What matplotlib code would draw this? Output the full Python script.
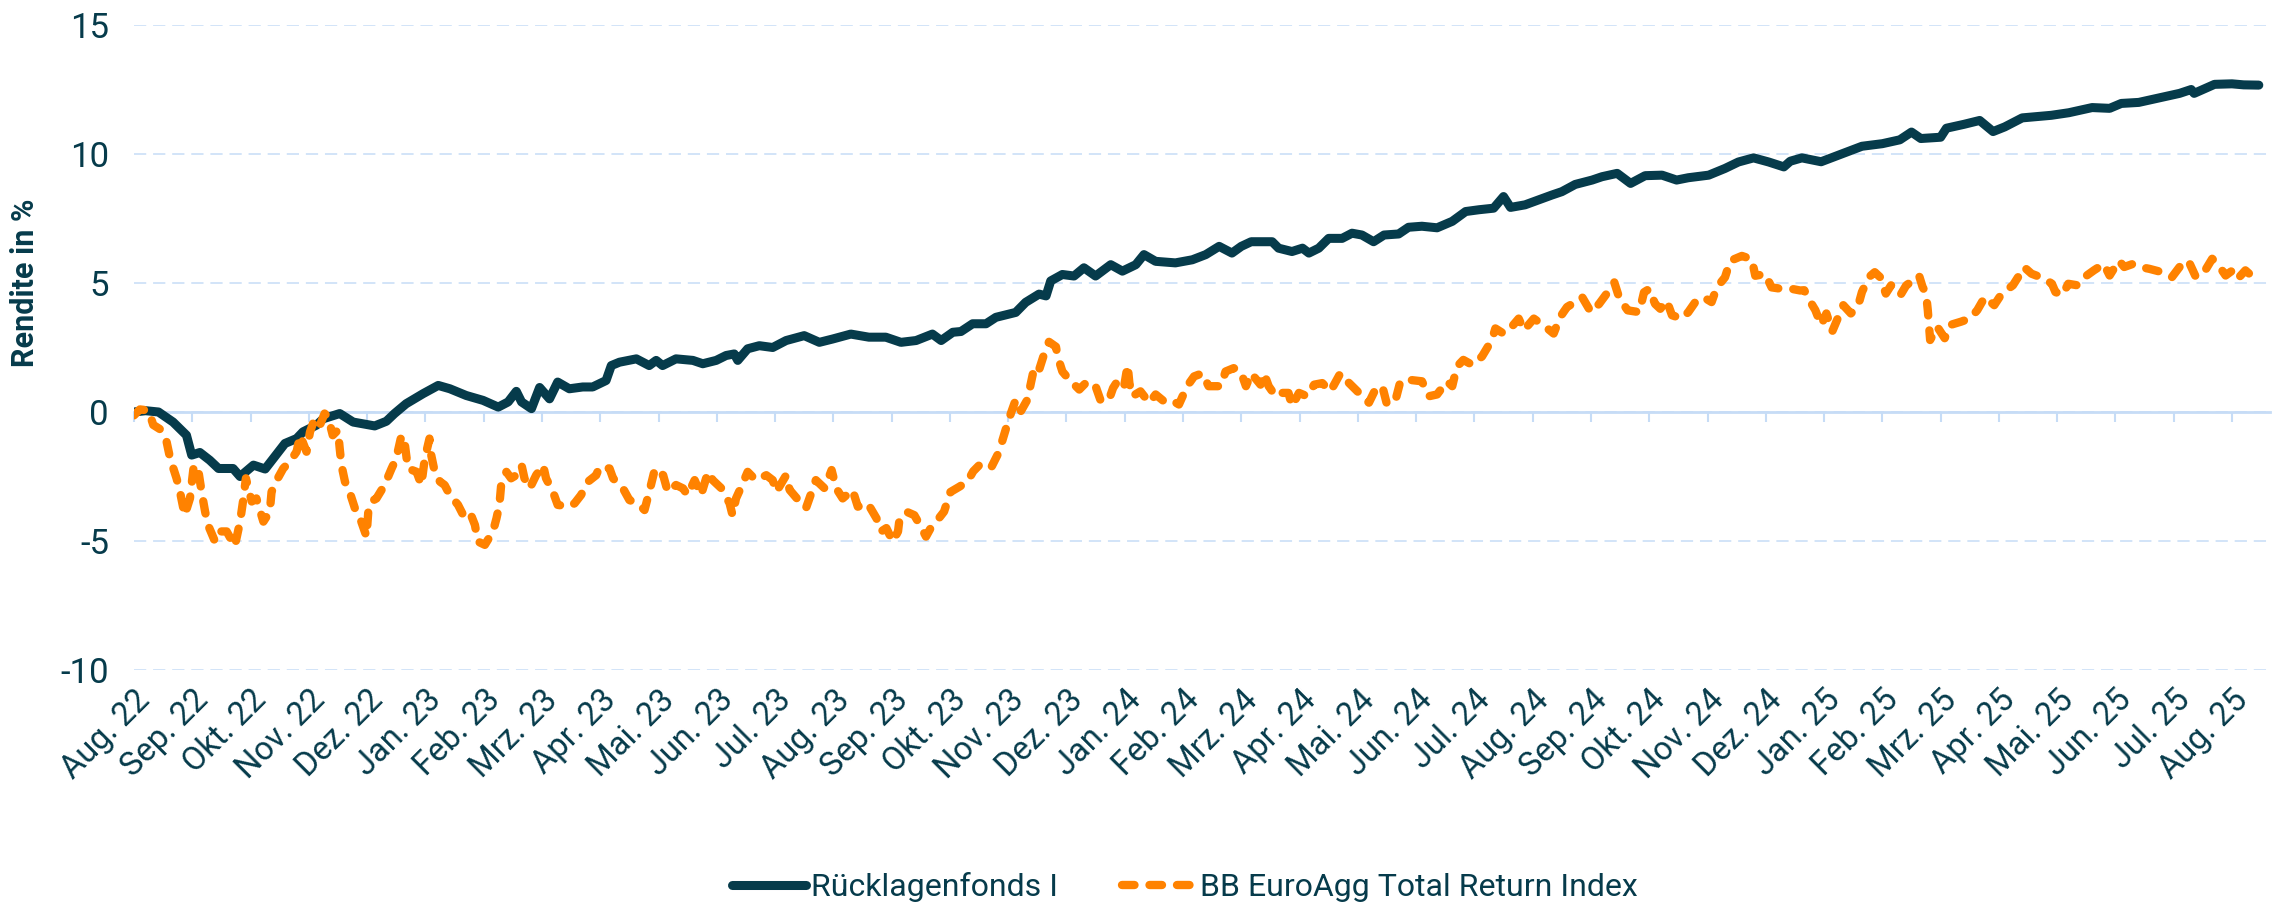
import matplotlib.pyplot as plt

plt.rcParams['font.family'] = ['Roboto', 'DejaVu Sans']
plt.rcParams['axes.unicode_minus'] = False

DARK = '#063b4b'
ORANGE = '#ff8200'
GRID = '#c6dcf6'

month_labels = ['Aug. 22', 'Sep. 22', 'Okt. 22', 'Nov. 22', 'Dez. 22', 'Jan. 23',
                'Feb. 23', 'Mrz. 23', 'Apr. 23', 'Mai. 23', 'Jun. 23', 'Jul. 23',
                'Aug. 23', 'Sep. 23', 'Okt. 23', 'Nov. 23', 'Dez. 23', 'Jan. 24',
                'Feb. 24', 'Mrz. 24', 'Apr. 24', 'Mai. 24', 'Jun. 24', 'Jul. 24',
                'Aug. 24', 'Sep. 24', 'Okt. 24', 'Nov. 24', 'Dez. 24', 'Jan. 25',
                'Feb. 25', 'Mrz. 25', 'Apr. 25', 'Mai. 25', 'Jun. 25', 'Jul. 25',
                'Aug. 25']

# months since Aug. 22, return in %
fonds_m = [0.0, 0.2, 0.42, 0.67, 0.9, 0.99, 1.13, 1.3, 1.45, 1.7, 1.82, 2.05, 2.25, 2.39,
           2.59, 2.79, 2.9, 3.13, 3.25, 3.53, 3.76, 4.13, 4.33, 4.47, 4.67, 4.96, 5.22,
           5.42, 5.7, 5.99, 6.25, 6.42, 6.56, 6.65, 6.82, 6.96, 7.13, 7.27, 7.47, 7.7,
           7.87, 8.1, 8.19, 8.33, 8.62, 8.84, 8.96, 9.07, 9.3, 9.59, 9.76, 9.99, 10.16,
           10.3, 10.36, 10.53, 10.73, 10.96, 11.19, 11.5, 11.76, 11.99, 12.3, 12.61, 12.9,
           13.16, 13.42, 13.7, 13.85, 14.05, 14.19, 14.39, 14.62, 14.79, 15.13, 15.3,
           15.53, 15.65, 15.73, 15.93, 16.13, 16.3, 16.5, 16.76, 16.96, 17.19, 17.33,
           17.53, 17.87, 18.16, 18.39, 18.62, 18.84, 19.0, 19.17, 19.53, 19.64, 19.87,
           20.05, 20.16, 20.33, 20.5, 20.73, 20.9, 21.07, 21.27, 21.45, 21.7, 21.87, 22.1,
           22.36, 22.62, 22.85, 23.08, 23.33, 23.5, 23.62, 23.87, 24.1, 24.33, 24.5,
           24.73, 25.02, 25.19, 25.45, 25.68, 25.93, 26.22, 26.47, 26.67, 27.02, 27.3,
           27.53, 27.79, 28.05, 28.31, 28.42, 28.62, 28.95, 29.3, 29.65, 30.0, 30.3,
           30.5, 30.66, 31.0, 31.1, 31.4, 31.67, 31.9, 32.1, 32.4, 32.9, 33.2, 33.6, 33.9,
           34.1, 34.4, 34.8, 35.1, 35.3, 35.35, 35.7, 36.0, 36.2, 36.46]
fonds_v = [0.0, 0.05, 0.0, -0.39, -0.9, -1.67, -1.57, -1.87, -2.19, -2.19, -2.5, -2.06,
           -2.21, -1.8, -1.22, -1.03, -0.77, -0.51, -0.26, -0.06, -0.39, -0.54, -0.36,
           -0.06, 0.32, 0.71, 1.03, 0.9, 0.64, 0.45, 0.19, 0.39, 0.8, 0.39, 0.13, 0.95,
           0.51, 1.16, 0.9, 0.97, 0.97, 1.22, 1.8, 1.93, 2.06, 1.8, 2.0, 1.8, 2.06, 2.0,
           1.87, 2.0, 2.19, 2.25, 2.0, 2.45, 2.57, 2.5, 2.77, 2.96, 2.7, 2.83, 3.02, 2.9,
           2.9, 2.7, 2.77, 3.02, 2.77, 3.09, 3.12, 3.42, 3.42, 3.67, 3.86, 4.25, 4.57,
           4.5, 5.08, 5.33, 5.27, 5.59, 5.27, 5.71, 5.46, 5.71, 6.1, 5.84, 5.78, 5.9, 6.1,
           6.42, 6.16, 6.42, 6.6, 6.6, 6.35, 6.22, 6.35, 6.16, 6.35, 6.73, 6.73, 6.93,
           6.86, 6.6, 6.86, 6.9, 7.16, 7.2, 7.14, 7.39, 7.77, 7.84, 7.9, 8.35, 7.93, 8.03,
           8.22, 8.41, 8.54, 8.82, 8.99, 9.12, 9.25, 8.86, 9.16, 9.18, 8.99, 9.08, 9.18,
           9.44, 9.69, 9.85, 9.69, 9.5, 9.72, 9.85, 9.7, 10.0, 10.3, 10.4, 10.55, 10.85,
           10.6, 10.65, 11.0, 11.15, 11.3, 10.87, 11.05, 11.4, 11.5, 11.6, 11.8, 11.77,
           11.96, 12.0, 12.2, 12.35, 12.5, 12.35, 12.7, 12.72, 12.68, 12.67]

index_m = [0.0, 0.1, 0.25, 0.33, 0.47, 0.56, 0.62, 0.73, 0.79, 0.87, 0.96, 1.02, 1.09,
           1.16, 1.22, 1.27, 1.39, 1.47, 1.59, 1.73, 1.82, 1.87, 1.92, 2.02, 2.1, 2.22,
           2.33, 2.36, 2.45, 2.56, 2.67, 2.79, 2.85, 2.96, 3.02, 3.1, 3.19, 3.27, 3.33,
           3.41, 3.5, 3.53, 3.56, 3.62, 3.7, 3.79, 3.9, 3.99, 4.02, 4.07, 4.16, 4.3, 4.42,
           4.5, 4.59, 4.65, 4.7, 4.85, 4.93, 4.99, 5.07, 5.1, 5.16, 5.25, 5.33, 5.42,
           5.56, 5.65, 5.76, 5.85, 5.9, 6.02, 6.16, 6.22, 6.27, 6.3, 6.39, 6.47, 6.56,
           6.65, 6.7, 6.79, 6.9, 7.02, 7.07, 7.19, 7.27, 7.47, 7.56, 7.67, 7.79, 7.93,
           7.99, 8.16, 8.22, 8.39, 8.5, 8.67, 8.76, 8.85, 8.94, 9.08, 9.16, 9.3, 9.42,
           9.5, 9.62, 9.73, 9.85, 9.93, 10.08, 10.22, 10.27, 10.33, 10.42, 10.53, 10.67,
           10.85, 10.96, 11.02, 11.19, 11.25, 11.42, 11.53, 11.62, 11.7, 11.85, 11.97,
           12.05, 12.16, 12.33, 12.42, 12.53, 12.59, 12.74, 12.82, 12.91, 13.02, 13.11,
           13.13, 13.25, 13.39, 13.5, 13.59, 13.67, 13.79, 13.9, 14.01, 14.16, 14.3,
           14.4, 14.5, 14.7, 14.84, 14.96, 15.05, 15.13, 15.22, 15.33, 15.39, 15.45,
           15.53, 15.62, 15.7, 15.82, 15.85, 15.93, 16.05, 16.22, 16.36, 16.5, 16.59,
           16.73, 16.8, 16.89, 16.99, 17.05, 17.08, 17.13, 17.27, 17.42, 17.53, 17.67,
           17.79, 17.93, 18.07, 18.19, 18.33, 18.44, 18.65, 18.73, 18.87, 18.99, 19.08,
           19.17, 19.33, 19.39, 19.47, 19.59, 19.67, 19.81, 19.87, 19.99, 20.13, 20.25,
           20.39, 20.53, 20.7, 20.85, 21.02, 21.19, 21.3, 21.42, 21.5, 21.65, 21.73,
           21.87, 22.1, 22.22, 22.36, 22.53, 22.62, 22.7, 22.81, 22.96, 23.13, 23.3,
           23.36, 23.5, 23.59, 23.76, 23.85, 24.02, 24.1, 24.22, 24.36, 24.47, 24.59,
           24.73, 24.85, 25.0, 25.14, 25.31, 25.4, 25.49, 25.63, 25.83, 25.91, 26.0,
           26.1, 26.19, 26.3, 26.39, 26.56, 26.67, 26.79, 26.93, 27.07, 27.16, 27.3,
           27.39, 27.59, 27.76, 27.82, 27.99, 28.1, 28.28, 28.45, 28.59, 28.66, 28.73,
           28.85, 28.95, 29.04, 29.14, 29.33, 29.46, 29.58, 29.65, 29.77, 29.87, 29.96,
           30.06, 30.15, 30.31, 30.41, 30.53, 30.63, 30.69, 30.75, 30.78, 30.82, 30.94,
           31.07, 31.16, 31.35, 31.51, 31.63, 31.76, 31.92, 32.05, 32.24, 32.33, 32.43,
           32.56, 32.78, 32.91, 32.97, 33.09, 33.19, 33.35, 33.47, 33.63, 33.8, 33.9,
           34.06, 34.15, 34.3, 34.42, 34.58, 34.8, 34.97, 35.1, 35.25, 35.38, 35.54,
           35.66, 35.79, 35.89, 36.01, 36.1, 36.23, 36.36, 36.46]
index_v = [-0.13, 0.1, 0.06, -0.5, -0.7, -1.16, -1.8, -2.57, -3.1, -4.0, -3.35, -2.19,
           -2.06, -3.1, -3.86, -4.38, -5.02, -4.63, -4.63, -5.2, -4.25, -3.47, -2.57,
           -3.47, -3.35, -4.25, -3.86, -3.1, -2.64, -2.19, -1.93, -1.54, -0.9, -1.54,
           -0.77, -0.26, -0.51, -0.06, -0.19, -0.9, -0.7, -1.42, -2.06, -2.7, -3.1,
           -3.73, -4.25, -4.83, -3.86, -3.47, -3.35, -2.83, -2.19, -1.8, -0.9, -1.29,
           -2.19, -2.32, -2.83, -1.8, -1.03, -1.67, -2.32, -2.7, -2.83, -3.22, -3.6,
           -4.0, -3.86, -4.38, -5.02, -5.15, -4.63, -4.12, -3.6, -2.83, -2.32, -2.57,
           -2.45, -2.06, -2.57, -2.96, -2.45, -2.06, -2.57, -3.1, -3.6, -3.67, -3.54,
           -3.22, -2.7, -2.45, -2.12, -2.19, -2.57, -2.96, -3.41, -3.6, -3.8, -3.02,
           -2.19, -2.45, -3.1, -2.83, -2.96, -3.22, -2.64, -3.22, -2.32, -2.64, -2.96,
           -3.54, -4.0, -3.35, -2.9, -2.32, -2.64, -2.45, -2.64, -3.1, -2.45, -3.02,
           -3.47, -3.73, -3.15, -2.64, -2.96, -2.25, -2.96, -3.35, -3.02, -3.67, -3.6,
           -3.54, -4.12, -4.63, -4.5, -5.02, -4.63, -4.25, -3.86, -4.0, -4.44, -4.83,
           -4.5, -4.18, -3.86, -3.1, -2.9, -2.7, -2.3, -2.07, -2.19, -1.56, -0.66, -0.03,
           0.48, 0.04, 0.48, 1.12, 1.76, 1.63, 2.27, 2.72, 2.53, 2.14, 1.57, 1.25, 0.87,
           1.19, 1.0, 0.42, 0.48, 0.93, 1.25, 1.0, 1.82, 1.12, 0.61, 0.8, 0.36, 0.68,
           0.42, 0.48, 0.29, 1.0, 1.38, 1.5, 1.0, 1.0, 1.57, 1.7, 1.57, 1.0, 1.5, 1.06,
           1.5, 1.0, 0.61, 0.74, 0.74, 0.23, 0.74, 0.61, 1.06, 1.12, 0.8, 1.5, 1.12,
           0.74, 0.36, 0.87, 1.0, 0.29, 0.49, 1.19, 1.25, 1.19, 0.61, 0.68, 1.19, 1.0,
           1.76, 2.02, 1.83, 2.15, 2.79, 3.24, 3.04, 3.17, 3.62, 3.17, 3.62, 3.49, 3.3,
           3.04, 3.68, 4.07, 4.26, 4.45, 3.87, 4.19, 4.71, 5.03, 4.39, 3.94, 3.87, 4.64,
           4.77, 4.19, 4.0, 4.32, 3.75, 3.62, 3.87, 4.26, 4.45, 4.26, 4.83, 5.22, 5.86,
           6.05, 5.92, 5.28, 5.35, 4.83, 4.77, 4.77, 4.71, 4.72, 4.4, 3.95, 3.37, 3.82,
           3.12, 4.14, 3.82, 4.08, 4.65, 5.23, 5.42, 5.23, 4.59, 4.91, 4.53, 4.91, 5.1,
           5.29, 4.85, 4.59, 3.95, 2.79, 3.31, 2.86, 3.37, 3.5, 3.63, 3.95, 4.46, 4.14,
           4.59, 4.91, 5.23, 5.62, 5.36, 5.17, 4.97, 4.65, 4.53, 4.97, 4.91, 5.23, 5.49,
           5.74, 5.29, 5.87, 5.62, 5.74, 5.62, 5.55, 5.42, 5.23, 5.62, 5.87, 5.23, 5.49,
           5.94, 5.62, 5.29, 5.49, 5.17, 5.49, 5.23, 5.3]

fig = plt.figure(figsize=(22.79, 9.06), dpi=100)
ax = fig.add_axes([0.0588, 0.2605, 0.9372, 0.7119])

ax.plot(fonds_m, fonds_v, color=DARK, lw=6.5, solid_capstyle='round',
        solid_joinstyle='round', label='Rücklagenfonds I', zorder=3)
ax.plot(index_m, index_v, color=ORANGE, lw=6, dashes=(1.5, 1.8),
        dash_capstyle='round', dash_joinstyle='round',
        label='BB EuroAgg Total Return Index', zorder=4)

ax.set_xlim(0, 36.65)
ax.set_ylim(-10, 15)
ax.set_yticks(range(-10, 16, 5))
ax.grid(axis='y', color=GRID, linestyle=(0, (8, 4.5)), lw=1.1)
ax.set_axisbelow(True)

for s in ['left', 'top', 'right']:
    ax.spines[s].set_visible(False)
ax.spines['bottom'].set_position(('data', 0))
ax.spines['bottom'].set_color(GRID)
ax.spines['bottom'].set_linewidth(2)
ax.spines['bottom'].set_zorder(2)

ax.set_xticks(range(len(month_labels)))
ax.tick_params(axis='x', length=7, width=1.5, color=GRID, labelbottom=False)
ax.tick_params(axis='y', length=0, pad=18, labelsize=25, labelcolor=DARK)

sec = ax.secondary_xaxis('bottom')
sec.set_xticks(range(len(month_labels)), labels=month_labels)
sec.tick_params(length=0, pad=10, labelsize=23.5, labelcolor=DARK)
sec.spines['bottom'].set_visible(False)
for lab in sec.get_xticklabels():
    lab.set_rotation(45)
    lab.set_ha('right')
    lab.set_rotation_mode('anchor')

ax.set_ylabel('Rendite in %', fontweight='bold', fontsize=22, color=DARK)
ax.yaxis.set_label_coords(-0.044, 0.6)

fig.legend(loc='center', bbox_to_anchor=(0.52, 0.021), ncol=2, frameon=False,
           fontsize=23, handlelength=2.3, handletextpad=0.15, columnspacing=2.0,
           labelcolor=DARK)

fig.savefig('out.png', dpi=100)
